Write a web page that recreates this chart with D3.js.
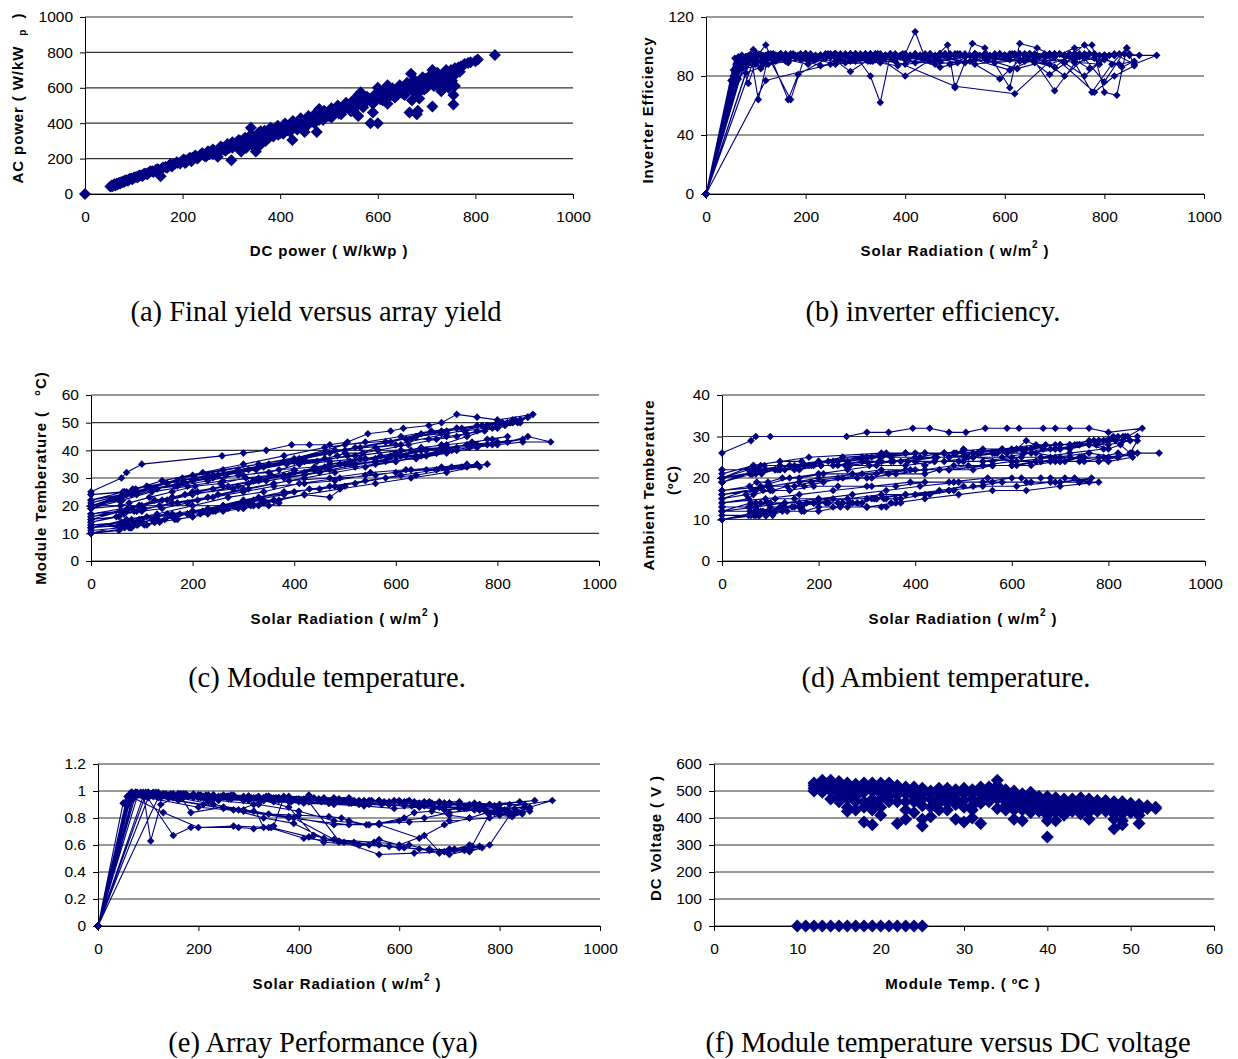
<!DOCTYPE html>
<html>
<head>
<meta charset="utf-8">
<script src="https://cdn.jsdelivr.net/npm/d3@7"></script>
<style>
  body { margin: 0; background: #fff; }
  svg { display: block; font-family: "Liberation Sans", Arial, sans-serif; }
  .tick text { font-size: 15.5px; fill: #000; }
  .axis-title { font-size: 15px; font-weight: bold; fill: #000; letter-spacing: 0.9px; }
  .caption { font-family: "Liberation Serif", "Times New Roman", serif; font-size: 28.5px; fill: #000; }
</style>
</head>
<body>
<div id="chart"></div>
<script>
// ---- data ----------------------------------------------------------------
// (a) AC power vs DC power, [dc, ac] in W/kWp
const acVsDc = [
  [0,0],[52,42],[55,48],[58,50],[60,55],[63,52],[65,60],[68,58],[70,63],[74,66],[78,70],[82,76],[85,78],
  [90,82],[95,88],[100,92],[105,96],[110,102],[115,105],[120,112],[125,115],[130,120],[138,128],[145,135],
  [150,138],[155,100],[158,145],[165,152],[172,160],[180,165],[185,172],[190,176],[198,185],[205,190],
  [212,198],[220,205],[228,210],[235,218],[242,225],[250,232],[258,240],[265,245],[272,210],[275,255],
  [282,262],[290,270],[298,275],[300,190],[305,283],[312,290],[318,300],[320,240],[325,305],[330,260],
  [332,310],[340,375],[345,318],[350,240],[350,255],[352,325],[358,330],[360,280],[365,340],[370,300],
  [372,345],[378,350],[385,358],[392,362],[400,372],[400,345],[408,378],[415,385],[415,360],[422,392],
  [425,305],[430,398],[438,405],[440,385],[445,412],[450,350],[452,420],[460,428],[468,435],[475,350],
  [476,442],[480,420],[485,450],[492,458],[500,465],[500,440],[508,472],[515,478],[520,455],[522,485],
  [530,492],[538,500],[545,505],[550,470],[552,512],[560,520],[560,440],[565,575],[575,530],[580,540],
  [585,400],[590,460],[595,555],[600,400],[600,600],[608,560],[610,530],[615,570],[620,510],[625,580],
  [632,585],[640,590],[640,560],[648,600],[650,570],[655,610],[662,620],[665,460],[668,680],[670,530],
  [675,630],[680,450],[682,470],[685,540],[690,640],[690,590],[698,650],[700,600],[705,655],[712,495],
  [712,700],[718,665],[720,620],[725,670],[730,580],[735,680],[740,690],[745,600],[750,700],[755,505],
  [755,560],[758,610],[760,680],[765,715],[770,720],[778,735],[800,750],[805,760],[840,785],
  [56,44],[62,50],[66,54],[72,60],[76,66],[80,68],[88,75],[92,86],[97,84],[102,95],[108,94],[112,104],
  [118,102],[122,114],[128,112],[134,128],[140,125],[148,140],[152,132],[160,150],[168,148],[175,168],
  [178,155],[188,180],[195,172],[202,195],[208,182],[215,205],[222,196],[226,218],[232,205],[240,230],
  [245,215],[252,242],[255,225],[262,252],[268,235],[278,268],[285,250],[292,282],[295,258],[302,292],
  [310,270],[315,305],[322,285],[328,318],[335,295],[342,330],[348,305],[355,345],[362,320],[368,358],
  [375,330],[382,370],[388,340],[395,385],[402,355],[410,398],[418,368],[426,412],[432,380],[442,428],
  [448,395],[458,440],[465,410],[472,455],[482,428],[490,470],[498,445],[505,485],[512,455],[518,500],
  [528,470],[535,515],[542,482],[548,525],[556,495],[563,538],[570,505],[578,550],[588,520],[595,565],
  [605,535],[612,580],[622,545],[630,598],[638,560],[645,615],[652,580],[660,628],[668,590],[675,645],
  [683,600],[692,660],[700,620],[708,672],[715,635],[722,685],[732,650],[740,700],[748,665],[758,710],
  [768,690],[775,728],[785,740],[790,745],
  [205,175],[218,185],[230,200],[248,212],[262,225],[276,240],[288,245],[302,262],[316,265],[326,280],
  [338,285],[346,295],[356,300],[366,310],[376,315],[386,325],[396,335],[406,340],[420,352],[435,365],
  [455,385],[470,400],[488,418],[505,432],[525,450],[545,468],[570,490],[590,510],[615,525],[635,545],
  [655,560],[675,575],[695,590],[715,610],[735,625],[752,640],[340,335],[360,355],[380,375],[480,480],
  [560,560],[620,615]
];

// (b)-(e) logged series, one row per day, in time order
const radiation = [
  [0,60,70,100,258,300,345,395,430,470,505,545,590,615,665,690,720,760,800,870,840,780,700,600,480,330,180,65,0],
  [0,55,80,120,170,230,290,350,410,470,530,590,650,700,750,800,850,905,860,820,760,690,610,520,420,310,200,90,0],
  [0,60,75,90,105,125,170,200,230,260,300,330,350,370,340,300,250,200,150,100,70,0],
  [0,55,65,100,140,190,240,300,360,420,480,540,600,660,710,760,730,680,620,550,470,390,310,230,160,90,0],
  [0,60,90,130,180,240,300,370,440,510,570,630,690,740,790,830,810,770,720,650,580,500,420,330,240,150,70,0],
  [0,65,120,165,185,250,290,340,400,460,485,500,535,560,610,630,665,700,740,775,800,825,845,860,820,780,700,620,500,380,250,120,0],
  [0,60,80,110,150,200,260,320,380,430,480,520,580,640,700,765,740,690,630,560,490,410,340,270,200,130,70,0],
  [0,70,95,150,185,280,310,345,420,450,520,560,600,650,680,710,745,780,820,850,800,740,690,640,560,470,380,290,200,100,0],
  [0,55,70,95,130,175,220,270,320,370,420,470,500,450,380,300,230,160,100,60,0],
  [0,50,65,85,105,135,170,210,250,300,360,420,480,540,600,660,720,680,620,560,500,440,380,320,260,200,140,80,0],
  [0,58,75,115,160,205,255,305,355,400,420,440,490,540,600,660,720,790,760,700,640,580,520,460,400,330,260,190,120,62,0],
  [0,58,68,85,100,120,145,165,190,215,240,265,290,315,340,360,335,310,280,250,220,190,160,130,100,75,0],
  [0,62,88,140,200,260,330,400,460,520,580,640,690,730,770,800,830,860,835,800,760,720,670,610,540,460,380,300,220,140,66,0],
  [0,57,72,95,125,160,210,270,330,390,450,510,560,610,660,700,740,780,820,790,750,700,650,600,540,470,400,320,240,160,95,0],
  [0,55,66,78,92,110,135,165,200,245,300,360,420,490,560,630,700,780,740,680,610,540,470,400,330,260,190,125,80,0],
  [0,63,82,110,150,205,265,325,385,445,505,565,625,680,720,760,800,845,815,775,735,690,640,590,530,470,410,350,290,230,170,110,70,0]
];
const inverterEff = [
  [0,85,93,94,95,94,95,95,94,94,95,94,95,95,94,95,94,95,94,94,95,94,95,94,95,94,93,88,0],
  [0,80,93,94,95,94,95,95,94,95,94,95,94,94,95,94,94,94,88,95,94,95,94,95,94,93,95,93,0],
  [0,76,93,94,64,93,64,95,94,95,94,80,62,94,95,94,95,94,93,94,90,0],
  [0,84,92,93,94,95,94,95,94,95,94,95,94,94,95,94,95,94,95,94,95,94,95,94,93,92,0],
  [0,88,94,95,94,95,94,95,94,95,94,95,94,95,94,95,94,95,94,95,94,95,94,95,94,95,93,0],
  [0,78,101,64,81,93,83,94,80,93,101,72,102,99,72,102,99,93,99,101,69,67,99,87,80,69,93,68,73,90,88,77,0],
  [0,85,93,94,95,94,95,94,95,94,95,94,95,94,95,94,95,94,95,94,95,94,95,94,95,94,93,0],
  [0,90,94,95,94,95,94,95,94,95,94,95,94,95,94,95,94,95,94,95,94,95,94,95,94,95,94,95,94,95,0],
  [0,80,92,98,94,95,94,95,94,95,94,95,94,95,94,95,94,95,94,86,0],
  [0,77,93,75,94,95,94,95,94,95,94,95,94,95,94,95,94,95,94,95,94,95,94,95,94,95,94,93,0],
  [0,92,88,90,93,90,94,92,93,95,110,92,88,95,93,91,90,88,101,86,91,89,93,90,88,92,90,93,88,84,0],
  [0,82,91,93,90,92,94,89,93,91,94,92,90,93,91,94,90,92,89,93,91,94,90,92,88,86,0],
  [0,86,92,90,93,88,92,91,94,89,92,90,88,93,85,91,88,90,86,92,80,89,93,84,91,88,92,90,93,91,89,0],
  [0,79,94,90,95,92,94,91,95,93,90,94,92,95,89,94,91,95,94,90,93,70,95,92,94,90,93,95,92,94,90,0],
  [0,74,90,88,93,85,94,90,92,95,91,93,89,94,92,90,94,92,89,93,91,88,94,92,90,93,91,88,82,0],
  [0,83,90,86,92,88,94,90,87,93,89,91,85,90,80,92,76,99,88,69,92,81,94,78,90,86,93,89,91,87,93,90,85,0]
];
const moduleTemp = [
  [25,30,32,35,38,39,40,42,42,42,43,46,47,48,49,50,53,52,51,53,50,49,46,42,40,35,30,24,21],
  [20,22,24,26,27,29,31,32,35,36,37,38,40,41,42,42,43,43,45,43,42,41,40,38,36,33,29,25,20],
  [11,12,12,13,13,14,15,16,17,18,19,20,20,21,22,21,19,18,17,15,13,10],
  [14,16,17,18,19,21,23,25,27,28,29,31,32,33,34,35,34,33,33,32,30,29,26,23,21,18,14],
  [19,23,24,26,28,30,31,33,34,36,38,40,42,45,48,50,50,49,48,46,43,40,37,34,31,28,24,19],
  [20,24,26,27,28,31,32,34,36,37,38,39,39,41,42,44,44,45,46,47,49,50,51,52,50,49,47,44,42,36,31,26,20],
  [12,14,15,16,17,18,20,22,24,26,27,28,30,31,33,34,35,34,33,31,30,28,25,23,20,17,15,12],
  [16,18,20,22,24,26,28,29,31,32,34,35,36,38,39,40,41,42,43,44,43,42,40,38,36,33,30,27,24,20,16],
  [13,13,14,15,16,17,18,19,20,22,24,23,27,26,25,22,19,17,15,14,13],
  [15,16,17,18,19,20,21,22,24,26,28,30,32,34,36,38,40,39,38,37,35,33,31,29,27,25,22,19,15],
  [19,20,21,23,25,27,28,30,31,33,32,33,35,37,38,40,41,42,41,39,37,36,35,34,32,30,29,27,25,22,19],
  [12,13,13,14,14,15,15,16,17,17,18,19,19,20,21,22,22,21,20,19,18,17,16,15,14,13,12],
  [22,24,26,29,31,33,35,37,39,41,43,45,47,48,49,50,51,52,51,50,49,48,47,45,43,41,38,35,32,29,25,22],
  [17,18,19,20,22,23,25,27,29,31,33,35,36,38,40,41,42,44,45,44,43,42,41,39,37,35,32,29,26,23,20,17],
  [10,11,12,12,13,13,14,15,16,18,20,22,24,26,28,30,32,35,34,33,31,29,27,25,23,20,17,14,12,10],
  [24,25,26,27,28,30,31,33,35,36,38,40,42,44,45,47,48,50,49,48,47,46,45,43,41,39,37,35,33,31,29,27,25,24]
];
const ambientTemp = [
  [26,29,30,30,30,31,31,32,32,31,31,32,32,32,32,32,32,32,31,32,30,29,28,27,26,26,25,23,21],
  [20,22,23,23,23,24,25,25,25,25,26,26,26,25,25,25,26,26,26,25,26,25,24,25,26,25,24,22,20],
  [11,11,11,11,11,12,12,13,13,13,13,13,14,14,13,13,14,14,13,12,11,10],
  [14,15,16,17,17,18,18,18,18,19,19,19,20,20,20,19,20,20,20,20,19,19,18,17,16,15,14],
  [19,21,22,22,23,23,24,24,25,25,26,27,27,28,29,29,30,29,28,28,27,26,26,25,24,23,22,19],
  [20,23,24,24,23,25,25,26,26,26,26,27,26,26,27,29,27,27,28,28,27,28,26,29,30,29,28,27,26,26,25,22,20],
  [12,14,14,15,15,15,15,15,16,16,17,18,19,19,19,20,19,19,19,19,19,18,17,16,15,14,13,12],
  [16,17,18,18,19,20,20,21,21,22,22,23,23,24,24,24,25,25,26,25,24,25,24,23,23,22,22,21,20,18,16],
  [13,13,14,14,14,14,14,14,15,15,16,17,18,17,16,15,15,14,14,13,13],
  [15,16,17,17,17,18,18,19,20,20,21,22,23,23,24,24,25,25,25,24,24,24,23,23,22,21,20,18,15],
  [19,21,22,22,22,23,23,23,24,24,23,24,24,24,25,25,26,27,28,27,26,25,25,24,24,24,23,23,22,21,19],
  [12,12,12,12,13,13,13,13,14,14,14,14,14,15,15,15,15,15,14,14,14,14,13,13,12,12,12],
  [22,22,23,23,24,24,25,25,26,26,27,27,28,28,29,29,30,30,30,29,29,28,28,27,27,26,26,25,24,23,22,22],
  [17,18,19,19,20,20,21,21,22,22,22,23,23,23,24,24,24,24,25,25,24,24,24,23,23,22,22,21,20,19,18,17],
  [10,11,11,11,11,12,12,12,12,13,13,14,15,16,17,17,18,19,19,19,18,18,17,16,16,15,14,13,12,10],
  [20,21,21,22,22,23,23,24,24,25,25,26,26,27,27,28,28,29,29,28,28,27,27,26,26,25,25,24,24,23,23,22,21,20]
];
const arrayPerf = [
  [0,0.92,0.97,0.97,0.96,0.95,0.95,0.94,0.95,0.94,0.93,0.93,0.92,0.92,0.91,0.91,0.9,0.9,0.9,0.93,0.92,0.9,0.91,0.92,0.94,0.95,0.96,0.95,0],
  [0,0.9,0.97,0.97,0.96,0.96,0.95,0.95,0.94,0.94,0.93,0.93,0.92,0.91,0.91,0.9,0.9,0.93,0.88,0.9,0.9,0.91,0.92,0.93,0.94,0.95,0.96,0.96,0],
  [0,0.9,0.99,0.99,0.63,0.9,0.98,0.97,0.97,0.96,0.96,0.73,0.74,0.95,0.96,0.96,0.97,0.97,0.98,0.99,0.97,0],
  [0,0.91,0.96,0.97,0.96,0.96,0.95,0.94,0.93,0.92,0.63,0.6,0.58,0.57,0.56,0.59,0.56,0.54,0.6,0.62,0.64,0.8,0.85,0.9,0.95,0.96,0],
  [0,0.93,0.98,0.97,0.96,0.95,0.95,0.94,0.93,0.93,0.92,0.91,0.9,0.89,0.88,0.87,0.86,0.87,0.88,0.89,0.9,0.91,0.92,0.93,0.94,0.95,0.96,0],
  [0,0.95,0.97,0.96,0.84,0.88,0.86,0.83,0.82,0.81,0.8,0.78,0.75,0.76,0.8,0.84,0.85,0.82,0.8,0.84,0.82,0.81,0.83,0.87,0.84,0.8,0.78,0.77,0.75,0.8,0.87,0.95,0],
  [0,0.92,0.98,0.98,0.97,0.96,0.95,0.94,0.88,0.67,0.62,0.6,0.59,0.57,0.53,0.58,0.6,0.55,0.54,0.53,0.62,0.65,0.73,0.74,0.73,0.84,0.95,0],
  [0,0.94,0.97,0.67,0.73,0.73,0.72,0.73,0.66,0.62,0.6,0.64,0.6,0.67,0.55,0.57,0.59,0.83,0.84,0.88,0.87,0.8,0.75,0.65,0.75,0.75,0.81,0.85,0.88,0.95,0],
  [0,0.9,0.96,0.99,0.98,0.98,0.97,0.97,0.96,0.96,0.95,0.95,0.95,0.95,0.96,0.96,0.97,0.98,0.98,0.95,0],
  [0,0.91,0.98,0.97,0.98,0.97,0.97,0.96,0.96,0.95,0.95,0.94,0.94,0.93,0.93,0.92,0.92,0.92,0.93,0.93,0.94,0.94,0.95,0.95,0.96,0.96,0.97,0.98,0],
  [0,0.96,0.99,0.99,0.98,0.97,0.96,0.95,0.95,0.94,0.97,0.94,0.93,0.92,0.92,0.91,0.9,0.89,0.88,0.9,0.91,0.92,0.9,0.91,0.93,0.94,0.95,0.96,0.97,0.96,0],
  [0,0.93,0.99,0.99,0.98,0.99,0.98,0.97,0.98,0.97,0.96,0.97,0.96,0.95,0.96,0.95,0.96,0.9,0.86,0.88,0.92,0.95,0.97,0.98,0.99,0.97,0],
  [0,0.95,0.97,0.96,0.95,0.94,0.93,0.92,0.92,0.91,0.9,0.89,0.88,0.87,0.86,0.85,0.84,0.85,0.84,0.85,0.86,0.87,0.88,0.89,0.9,0.91,0.92,0.93,0.94,0.95,0.96,0],
  [0,0.91,0.97,0.96,0.95,0.93,0.9,0.86,0.8,0.76,0.65,0.62,0.6,0.58,0.56,0.57,0.55,0.6,0.82,0.84,0.86,0.84,0.8,0.78,0.75,0.78,0.85,0.9,0.93,0.95,0.97,0],
  [0,0.9,0.99,0.99,0.98,0.99,0.98,0.98,0.97,0.96,0.96,0.95,0.94,0.93,0.93,0.92,0.91,0.9,0.9,0.91,0.91,0.92,0.93,0.94,0.95,0.95,0.96,0.97,0.98,0],
  [0,0.94,0.98,0.97,0.96,0.95,0.94,0.93,0.92,0.92,0.91,0.9,0.89,0.88,0.87,0.86,0.85,0.84,0.86,0.85,0.87,0.86,0.88,0.87,0.89,0.9,0.91,0.92,0.93,0.94,0.95,0.96,0.97,0]
];

// (f) DC voltage vs module temperature, [temp, volts]
const voltVsTemp = [
  [10,0],[11,0],[12,0],[13,0],[14,0],[15,0],[16,0],[17,0],[18,0],[19,0],[20,0],[21,0],[22,0],[23,0],[24,0],[25,0],
  [12,520],[12,500],[12,530],[13,525],[13,510],[14,540],[14,520],[14,500],[14,470],[15,535],[15,515],[15,490],
  [15,480],[16,530],[16,505],[16,470],[16,440],[16,425],[17,525],[17,500],[17,480],[17,430],[18,530],[18,510],
  [18,460],[18,385],[19,530],[19,500],[19,470],[19,430],[19,375],[20,530],[20,510],[20,490],[20,440],[20,410],
  [21,530],[21,505],[21,480],[22,520],[22,500],[22,460],[22,380],[23,515],[23,490],[23,430],[23,395],[24,515],
  [24,480],[24,420],[25,510],[25,490],[25,445],[25,395],[25,370],[26,500],[26,470],[26,405],[27,510],[27,490],
  [27,455],[27,430],[28,510],[28,480],[28,430],[29,505],[29,470],[29,395],[30,510],[30,490],[30,440],[30,385],
  [31,505],[31,470],[31,400],[31,445],[32,515],[32,490],[32,455],[32,380],[33,515],[33,480],[34,540],[34,500],
  [34,470],[34,435],[35,505],[35,480],[35,445],[35,430],[36,500],[36,470],[36,430],[36,395],[37,490],[37,460],
  [37,430],[37,390],[38,495],[38,470],[38,440],[38,420],[39,480],[39,450],[39,425],[40,480],[40,460],[40,440],
  [40,410],[40,390],[40,330],[41,475],[41,450],[41,420],[41,390],[42,470],[42,445],[42,410],[43,470],[43,440],
  [43,425],[44,475],[44,450],[44,415],[45,470],[45,440],[45,395],[46,465],[46,440],[46,425],[47,465],[47,445],
  [47,425],[48,460],[48,430],[48,395],[48,360],[49,460],[49,430],[49,390],[49,375],[50,455],[50,430],[50,420],
  [51,450],[51,410],[51,380],[52,445],[53,440],[53,435],
  [12,510],[13,540],[13,495],[14,510],[15,500],[15,460],[16,515],[16,490],[17,510],[17,460],[18,495],[18,440],
  [19,515],[19,455],[20,520],[20,470],[21,520],[21,460],[22,510],[22,485],[23,505],[23,460],[24,500],[24,460],
  [25,500],[25,470],[26,490],[26,440],[27,500],[27,470],[28,495],[28,455],[29,490],[29,450],[30,500],[30,465],
  [31,490],[31,430],[32,500],[32,470],[33,500],[33,460],[34,520],[34,485],[35,495],[35,460],[36,485],[36,450],
  [37,475],[37,445],[38,485],[38,455],[39,465],[39,440],[40,470],[40,425],[41,460],[41,435],[42,455],[42,430],
  [43,455],[44,460],[44,430],[45,455],[45,420],[46,455],[47,455],[47,435],[48,450],[48,415],[49,445],[49,415],
  [50,445],[51,440],[51,425],[52,435]
];

// tick labels
const radTicks = [0,200,400,600,800,1000];
const powerTicks = [0,200,400,600,800,1000];
const effTicks = [0,40,80,120];
const modTempTicks = [0,10,20,30,40,50,60];
const ambTempTicks = [0,10,20,30,40];
const perfTicks = [0,0.2,0.4,0.6,0.8,1,1.2];
const tempTicks = [0,10,20,30,40,50,60];
const voltTicks = [0,100,200,300,400,500,600];

// ---- build point lists ------------------------------------------------------
const rad = radiation.flat();
function pairWith(series) {
  const ys = series.flat();
  if (ys.length !== rad.length) console.warn('length mismatch', ys.length, rad.length);
  return rad.map((r, i) => [r, ys[i]]);
}

const NAVY = '#000080';
const svg = d3.select('#chart').append('svg').attr('width', 1238).attr('height', 1059);

const diamond = r => `M0,${-r}L${r},0L0,${r}L${-r},0Z`;

function drawPanel(p) {
  const x = d3.scaleLinear().domain(p.xDomain).range([p.left, p.right]);
  const y = d3.scaleLinear().domain(p.yDomain).range([p.bottom, p.top]);
  const g = svg.append('g');

  // horizontal gridlines
  g.append('g').selectAll('line').data(p.yTicks).join('line')
    .attr('x1', p.left).attr('x2', p.right)
    .attr('y1', d => y(d)).attr('y2', d => y(d))
    .attr('stroke', '#333').attr('stroke-width', 1.2);

  const xAxis = g.append('g').attr('transform', `translate(0,${p.bottom})`)
    .call(d3.axisBottom(x).tickValues(p.xTicks).tickFormat(d => String(d))
      .tickSize(5).tickSizeOuter(0).tickPadding(12));
  const yAxis = g.append('g').attr('transform', `translate(${p.left},0)`)
    .call(d3.axisLeft(y).tickValues(p.yTicks).tickFormat(d => String(d))
      .tickSize(5).tickSizeOuter(0).tickPadding(7));
  [xAxis, yAxis].forEach(a => {
    a.attr('font-family', null).attr('font-size', null);
    a.selectAll('path, line').attr('stroke', '#000');
  });

  if (p.connect) {
    g.append('path').datum(p.points)
      .attr('d', d3.line().x(d => x(d[0])).y(d => y(d[1])))
      .attr('fill', 'none').attr('stroke', NAVY).attr('stroke-width', 1.1)
      .attr('stroke-linejoin', 'round');
  }
  g.append('g').selectAll('path').data(p.points).join('path')
    .attr('transform', d => `translate(${x(d[0])},${y(d[1])})`)
    .attr('d', diamond(p.r)).attr('fill', NAVY);
}

const panels = [
  { left: 85, right: 573, top: 17, bottom: 194, xDomain: [0,1000], yDomain: [0,1000],
    xTicks: powerTicks, yTicks: powerTicks, points: acVsDc, connect: false, r: 6 },
  { left: 706, right: 1204, top: 17, bottom: 194, xDomain: [0,1000], yDomain: [0,120],
    xTicks: radTicks, yTicks: effTicks, points: pairWith(inverterEff), connect: true, r: 3.8 },
  { left: 91, right: 599, top: 395, bottom: 561, xDomain: [0,1000], yDomain: [0,60],
    xTicks: radTicks, yTicks: modTempTicks, points: pairWith(moduleTemp), connect: true, r: 3.8 },
  { left: 722, right: 1205, top: 395, bottom: 561, xDomain: [0,1000], yDomain: [0,40],
    xTicks: radTicks, yTicks: ambTempTicks, points: pairWith(ambientTemp), connect: true, r: 3.8 },
  { left: 98, right: 600, top: 764, bottom: 926, xDomain: [0,1000], yDomain: [0,1.2],
    xTicks: radTicks, yTicks: perfTicks, points: pairWith(arrayPerf), connect: true, r: 3.8 },
  { left: 714, right: 1214, top: 764, bottom: 926, xDomain: [0,60], yDomain: [0,600],
    xTicks: tempTicks, yTicks: voltTicks, points: voltVsTemp, connect: false, r: 6.5 }
];
panels.forEach(drawPanel);

// ---- axis titles ----------------------------------------------------------
function hTitle(cx, cy, parts) {
  const t = svg.append('text').attr('class', 'axis-title')
    .attr('x', cx).attr('y', cy).attr('text-anchor', 'middle').attr('dominant-baseline', 'central')
    .attr('xml:space', 'preserve');
  parts.forEach(pt => {
    const s = t.append('tspan').text(pt.t);
    if (pt.sup) s.attr('baseline-shift', 'super').attr('font-size', '10px');
    if (pt.sub) s.attr('baseline-shift', 'sub').attr('font-size', '10px');
  });
  return t;
}
function vTitle(cx, cy, parts) {
  const t = hTitle(0, 0, parts);
  t.attr('transform', `translate(${cx},${cy}) rotate(-90)`);
}

const solarParts = [{ t: 'Solar Radiation ( w/m' }, { t: '2', sup: true }, { t: ' )' }];
hTitle(329, 250, [{ t: 'DC power ( W/kWp )' }]);
vTitle(17, 98, [{ t: 'AC power ( W/kW  ' }, { t: 'p', sub: true }, { t: '  )' }]);
hTitle(955, 250, solarParts);
vTitle(647, 110, [{ t: 'Inverter Efficiency' }]);
hTitle(345, 618, solarParts);
vTitle(40, 478, [{ t: 'Module Temberature (   \u00B0C)' }]);
hTitle(963, 618, solarParts);
vTitle(648, 485, [{ t: 'Ambient Temberature' }]);
vTitle(672, 480, [{ t: '(\u00BAC)' }]);
hTitle(347, 983, solarParts);
hTitle(963, 983, [{ t: 'Module Temp. ( \u00BAC )' }]);
vTitle(655, 838, [{ t: 'DC Voltage ( V )' }]);

// ---- captions -------------------------------------------------------------
const captions = [
  ['(a) Final yield versus array yield', 316, 321],
  ['(b) inverter efficiency.', 933, 321],
  ['(c) Module temperature.', 327, 687],
  ['(d) Ambient temperature.', 946, 687],
  ['(e) Array Performance (ya)', 323, 1052],
  ['(f) Module temperature versus DC voltage', 948, 1052]
];
svg.selectAll('text.caption').data(captions).join('text')
  .attr('class', 'caption').attr('x', d => d[1]).attr('y', d => d[2])
  .attr('text-anchor', 'middle').text(d => d[0]);
</script>
</body>
</html>
